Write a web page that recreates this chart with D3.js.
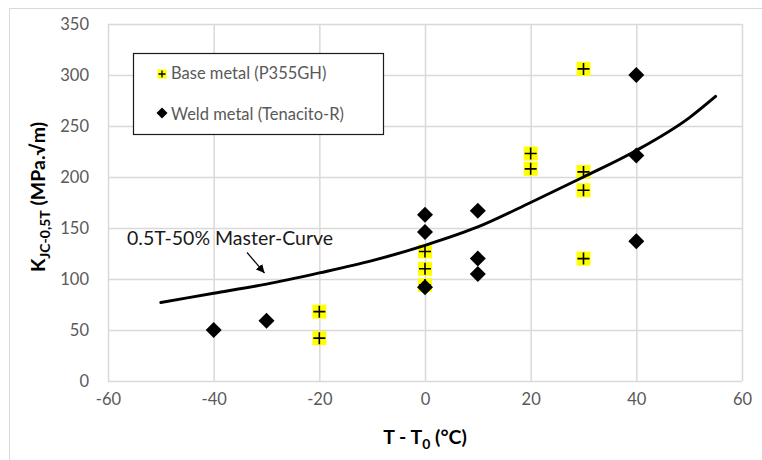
<!DOCTYPE html>
<html>
<head>
<meta charset="utf-8">
<script src="https://cdn.jsdelivr.net/npm/d3@7"></script>
<style>
  body { margin: 0; background: #fff; }
  text { font-family: Lato, "Open Sans", sans-serif; }
</style>
</head>
<body>
<div id="chart"></div>
<script>
// values
const baseX = [-20, -20, 0, 0, 0, 20, 20, 30, 30, 30, 30];
const baseY = [68, 42, 127, 110, 94, 223, 208, 306, 205, 187, 120];
const weldX = [-40, -30, 0, 0, 0, 10, 10, 10, 40, 40, 40];
const weldY = [50, 59, 163, 146, 92, 167, 120, 105, 300, 221, 137];
const curveX = [-50, -40, -30, -20, -10, 0, 10, 20, 30, 40, 50, 55];
const curveY = [77, 86, 95, 106, 118, 133, 151, 175, 200, 226, 258, 279];
const xTicks = [-60, -40, -20, 0, 20, 40, 60];
const yTicks = [0, 50, 100, 150, 200, 250, 300, 350];
const legendLabels = ['Base metal (P355GH)', 'Weld metal (Tenacito-R)'];

const width = 762, height = 460;
const margin = { left: 108, right: 20, top: 24, bottom: 79 };
const gridColour = '#d9d9d9';
const textColour = '#595959';

const svg = d3.select('#chart').append('svg')
  .attr('width', width).attr('height', height);

// outer chart frame
svg.append('rect')
  .attr('x', 9.5).attr('y', 8.5)
  .attr('width', width).attr('height', height)
  .style('fill', 'none').style('stroke', gridColour);

const x = d3.scaleLinear().domain([-60, 60]).range([margin.left, width - margin.right]);
const y = d3.scaleLinear().domain([0, 350]).range([height - margin.bottom, margin.top]);

// grid
svg.append('g').selectAll('line').data(xTicks).join('line')
  .attr('x1', d => x(d) + 0.5).attr('x2', d => x(d) + 0.5)
  .attr('y1', y(350)).attr('y2', y(0))
  .style('stroke', gridColour).style('stroke-width', 1.5);
svg.append('g').selectAll('line').data(yTicks).join('line')
  .attr('x1', x(-60)).attr('x2', x(60))
  .attr('y1', d => y(d) + 0.5).attr('y2', d => y(d) + 0.5)
  .style('stroke', gridColour).style('stroke-width', 1.5);

// axes (labels only), plain hyphen for negatives like the original
const xAxis = svg.append('g')
  .attr('transform', 'translate(0,' + y(0) + ')')
  .call(d3.axisBottom(x).tickValues(xTicks).tickFormat(d => String(d)).tickSize(0).tickPadding(12));
const yAxis = svg.append('g')
  .attr('transform', 'translate(' + x(-60) + ',0)')
  .call(d3.axisLeft(y).tickValues(yTicks).tickFormat(d => String(d)).tickSize(0).tickPadding(19));
[xAxis, yAxis].forEach(a => {
  a.select('.domain').remove();
  a.selectAll('text')
    .style('font-family', 'Lato, "Open Sans", sans-serif')
    .style('font-size', '16.5px')
    .style('fill', textColour);
});

// axis titles
svg.append('text')
  .attr('x', x(0)).attr('y', 444)
  .attr('text-anchor', 'middle')
  .style('font-size', '19.5px').style('font-weight', 'bold').style('fill', '#000')
  .call(t => {
    t.append('tspan').text('T - T');
    t.append('tspan').text('0').attr('dy', 5).style('font-size', '14px');
    t.append('tspan').text(' (°C)').attr('dy', -5);
  });

svg.append('text')
  .attr('transform', 'translate(45,' + 197 + ') rotate(-90)')
  .attr('text-anchor', 'middle')
  .style('font-size', '19.5px').style('font-weight', 'bold').style('fill', '#000')
  .call(t => {
    t.append('tspan').text('K');
    t.append('tspan').text('JC-0,5T').attr('dy', 5).style('font-size', '14px');
    t.append('tspan').text(' (MPa.√m)').attr('dy', -5);
  });

const baseData = baseX.map((d, i) => ({ x: d, y: baseY[i] }));
const weldData = weldX.map((d, i) => ({ x: d, y: weldY[i] }));

const plusMarker = (g, size, lw) => {
  g.append('rect')
    .attr('x', -size / 2).attr('y', -size / 2)
    .attr('width', size).attr('height', size)
    .style('fill', '#ffff00');
  g.append('path')
    .attr('d', 'M' + (-size / 2 + 1) + ',0H' + (size / 2 - 1) + 'M0,' + (-size / 2 + 1) + 'V' + (size / 2 - 1))
    .style('stroke', '#000').style('stroke-width', lw).style('fill', 'none');
};
const diamond = r => 'M0,' + -r + 'L' + r + ',0L0,' + r + 'L' + -r + ',0Z';

// base metal markers
svg.append('g').selectAll('g').data(baseData).join('g')
  .attr('transform', d => 'translate(' + x(d.x) + ',' + y(d.y) + ')')
  .each(function () { plusMarker(d3.select(this), 14, 1.6); });

// weld metal markers
svg.append('g').selectAll('path').data(weldData).join('path')
  .attr('transform', d => 'translate(' + x(d.x) + ',' + y(d.y) + ')')
  .attr('d', diamond(8))
  .style('fill', '#000');

// master curve
const line = d3.line().x(d => x(d[0])).y(d => y(d[1])).curve(d3.curveMonotoneX);
svg.append('path')
  .datum(curveX.map((d, i) => [d, curveY[i]]))
  .attr('d', line)
  .style('fill', 'none').style('stroke', '#000').style('stroke-width', 3)
  .style('stroke-linecap', 'round');

// annotation
svg.append('defs').append('marker')
  .attr('id', 'arrow').attr('viewBox', '0 0 10 10')
  .attr('refX', 10).attr('refY', 5)
  .attr('markerWidth', 7).attr('markerHeight', 7)
  .attr('orient', 'auto')
  .append('path').attr('d', 'M0,0L10,5L0,10Z').style('fill', '#000');

svg.append('text')
  .attr('x', 127).attr('y', 245)
  .style('font-size', '19.5px').style('fill', '#1a1a1a')
  .text('0.5T-50% Master-Curve');
svg.append('line')
  .attr('x1', 247).attr('y1', 252.5).attr('x2', 264.5).attr('y2', 273)
  .style('stroke', '#000').style('stroke-width', 1.2)
  .attr('marker-end', 'url(#arrow)');

// legend
const legend = svg.append('g');
legend.append('rect')
  .attr('x', 133.5).attr('y', 53.5).attr('width', 250).attr('height', 81)
  .style('fill', '#fff').style('stroke', '#1a1a1a').style('stroke-width', 1.2);
const lg0 = legend.append('g').attr('transform', 'translate(162,74)');
plusMarker(lg0, 9, 1.3);
legend.append('path').attr('transform', 'translate(162,113)').attr('d', diamond(5.5)).style('fill', '#000');
legend.selectAll('text.lbl').data(legendLabels).join('text')
  .attr('class', 'lbl')
  .attr('x', 171).attr('y', (d, i) => 79 + i * 41)
  .style('font-size', '16.5px').style('fill', textColour)
  .text(d => d);
</script>
</body>
</html>
